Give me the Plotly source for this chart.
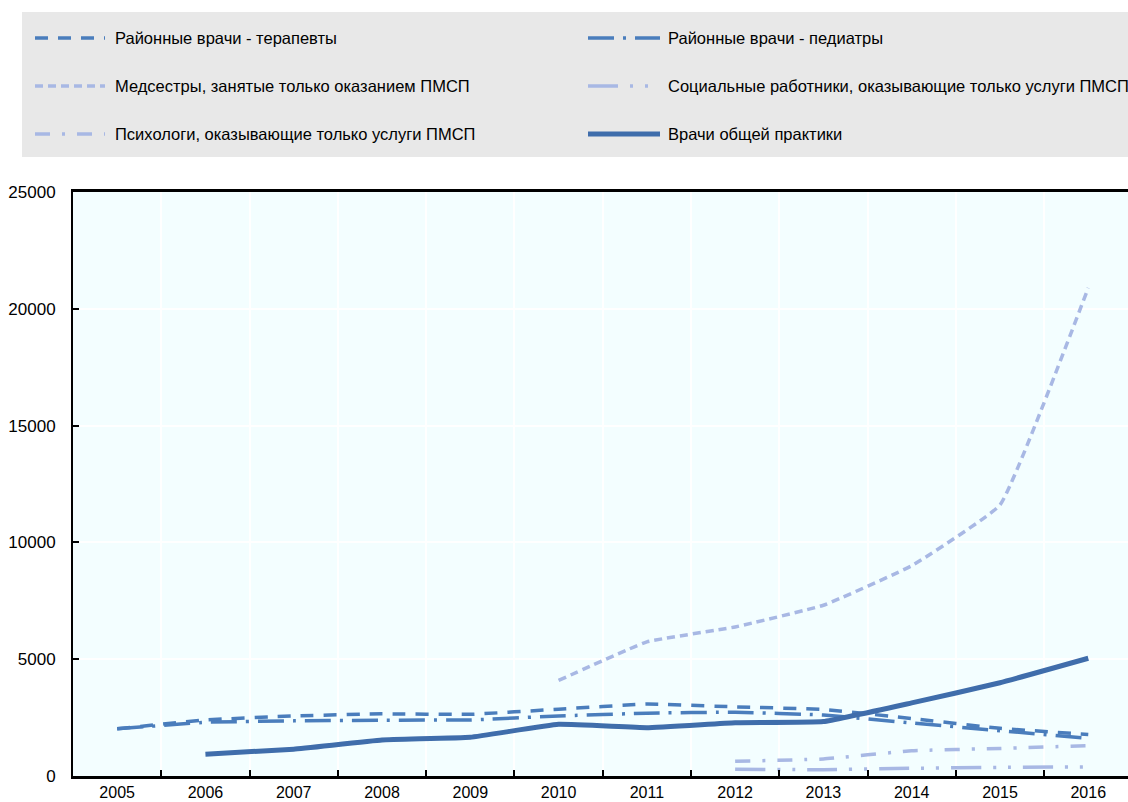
import plotly.graph_objects as go

# Primary care workforce, 2005-2016
years = [2005, 2006, 2007, 2008, 2009, 2010, 2011, 2012, 2013, 2014, 2015, 2016]

district_therapists = [2020, 2400, 2570, 2660, 2640, 2860, 3080, 2960, 2850, 2460, 2040, 1780]
district_pediatricians = [2020, 2300, 2360, 2390, 2400, 2570, 2690, 2730, 2610, 2270, 1940, 1610]
nurses_phc = [None, None, None, None, None, 4090, 5740, 6380, 7310, 9000, 11600, 20900]
social_workers_phc = [None, None, None, None, None, None, None, 290, 270, 330, 370, 390]
psychologists_phc = [None, None, None, None, None, None, None, 630, 730, 1080, 1180, 1300]
general_practitioners = [None, 930, 1150, 1540, 1660, 2210, 2070, 2280, 2330, 3130, 3990, 5040]

y_ticks = [0, 5000, 10000, 15000, 20000, 25000]

DARK = "#4A7DBC"
GP = "#3F6DAB"
LIGHT = "#A8B8E4"

series = [
    # name, values, colour, width, dash, legend column, legend row
    ("Районные врачи - терапевты", district_therapists, DARK, 3.5, "13px,10px", 0, 0),
    ("Районные врачи - педиатры", district_pediatricians, DARK, 3.5, "26px,9px,3px,9px", 1, 0),
    ("Медсестры, занятые только оказанием ПМСП", nurses_phc, LIGHT, 3.5, "8px,5px", 0, 1),
    ("Социальные работники, оказывающие только услуги ПМСП", social_workers_phc, LIGHT, 3.5,
     "30px,12px,3px,12px,3px,12px", 1, 1),
    ("Психологи, оказывающие только услуги ПМСП", psychologists_phc, LIGHT, 3.5, "15px,12px,3px,12px", 0, 2),
    ("Врачи общей практики", general_practitioners, GP, 5, "solid", 1, 2),
]

FONT = "Liberation Sans Narrow, Arial Narrow, Liberation Sans, Arial, sans-serif"

W, H = 1128, 802
PL, PR, PT, PB = 73, 1128, 192, 776  # plot area in pixels


def px_x(x):
    return (x - PL) / (PR - PL)


def px_y(y):
    return (PB - y) / (PB - PT)


fig = go.Figure()

for name, vals, color, width, dash, _, _ in series:
    fig.add_trace(go.Scatter(
        x=years, y=vals, mode="lines", name=name,
        line=dict(color=color, width=width, dash=dash, shape="spline", smoothing=0.3),
        connectgaps=False, showlegend=False,
    ))

shapes = []
annotations = []

# legend panel
shapes.append(dict(type="rect", xref="paper", yref="paper",
                   x0=px_x(22), x1=px_x(1128), y0=px_y(157), y1=px_y(12),
                   fillcolor="#E8E8E8", line=dict(width=0), layer="below"))

col_key = [(35, 105, 113), (588, 660, 666)]
row_y = [38, 86, 134]
for name, vals, color, width, dash, col, row in series:
    k0, k1, tx = col_key[col]
    yy = px_y(row_y[row])
    shapes.append(dict(type="line", xref="paper", yref="paper",
                       x0=px_x(k0), x1=px_x(k1), y0=yy, y1=yy,
                       line=dict(color=color, width=width, dash=dash)))
    annotations.append(dict(xref="paper", yref="paper", x=px_x(tx), y=yy,
                            text=name, showarrow=False, xanchor="left", yanchor="middle",
                            font=dict(family=FONT, size=16.5, color="#000000")))

fig.update_layout(
    width=W, height=H,
    margin=dict(l=PL, r=W - PR, t=PT, b=H - PB, autoexpand=False),
    paper_bgcolor="#FFFFFF",
    plot_bgcolor="#F3FEFF",
    font=dict(family=FONT, size=17, color="#000000"),
    shapes=shapes,
    annotations=annotations,
    showlegend=False,
)

fig.update_xaxes(
    range=[2004.5, 2016.45],
    tickmode="array", tickvals=years, ticktext=[str(y) for y in years],
    ticks="", showgrid=False, zeroline=False, automargin=False,
    showline=True, linecolor="#000000", linewidth=2.5, mirror=True,
    minor=dict(tickmode="array", tickvals=[y + 0.5 for y in years[:-1]],
               ticks="inside", ticklen=6, tickwidth=1.5, tickcolor="#000000",
               showgrid=True, gridcolor="#FFFFFF", gridwidth=1.5),
    tickfont=dict(family=FONT, size=16),
    ticklabelstandoff=0,
)

fig.update_yaxes(
    range=[0, 25000],
    tickmode="array", tickvals=y_ticks, ticktext=[str(v) for v in y_ticks],
    ticks="inside", ticklen=6, tickwidth=1.5, tickcolor="#000000",
    showgrid=True, gridcolor="#FFFFFF", gridwidth=1.5, zeroline=False, automargin=False,
    showline=True, linecolor="#000000", linewidth=2,
    tickfont=dict(family=FONT, size=17),
    ticklabelstandoff=12,
)

fig.write_html("out.html")
